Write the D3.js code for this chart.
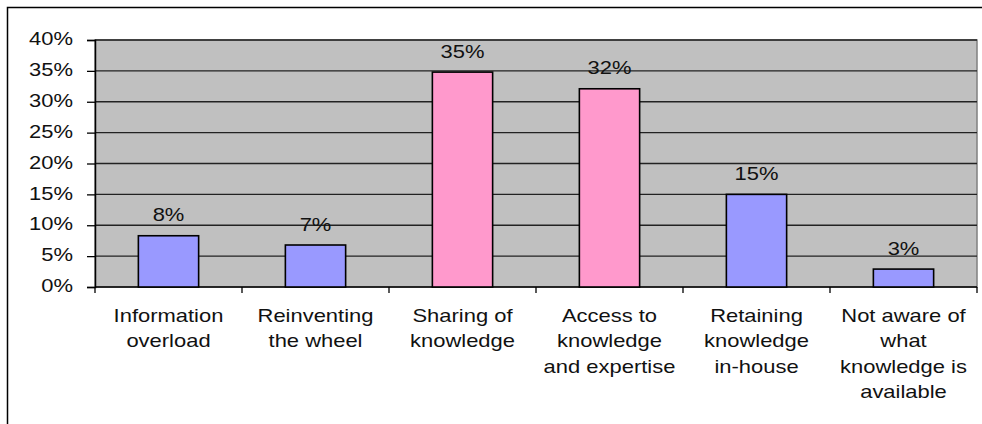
<!DOCTYPE html>
<html>
<head>
<meta charset="utf-8">
<script src="https://cdn.jsdelivr.net/npm/d3@7/dist/d3.min.js"></script>
<style>
  html, body { margin: 0; padding: 0; background: #fff; }
  svg { display: block; }
  text { font-family: "Liberation Sans", Arial, sans-serif; fill: #111; }
</style>
</head>
<body>
<svg id="chart" width="982" height="424"></svg>
<script>
// Survey results: share of respondents per knowledge-management issue
const categories = [
  ["Information", "overload"],
  ["Reinventing", "the wheel"],
  ["Sharing of", "knowledge"],
  ["Access to", "knowledge", "and expertise"],
  ["Retaining", "knowledge", "in-house"],
  ["Not aware of", "what", "knowledge is", "available"]
];
const values = [0.083, 0.068, 0.348, 0.321, 0.150, 0.029];
const highlighted = [false, false, true, true, false, false];
const yTicks = [0, 0.05, 0.10, 0.15, 0.20, 0.25, 0.30, 0.35, 0.40];

const FONT_SIZE = 18;
const STRETCH = 1.22; // wide lettering, scaled horizontally

const svg = d3.select("#chart");
const plot = { left: 95, right: 977, top: 40, bottom: 287 };
const pct = d3.format(".0%");

// Helper: horizontally stretched text anchored at (x, y)
function label(parent, x, y, lines, anchor, lineGap) {
  const g = parent.append("g")
    .attr("transform", `translate(${x},${y}) scale(${STRETCH},1)`);
  const t = g.append("text")
    .attr("text-anchor", anchor)
    .attr("font-size", FONT_SIZE);
  lines.forEach((ln, k) => {
    t.append("tspan").attr("x", 0).attr("dy", k === 0 ? 0 : lineGap).text(ln);
  });
  return g;
}

// Outer frame (top and left edges visible)
svg.append("path")
  .attr("d", "M7.5,424 L7.5,7.5 L982,7.5")
  .attr("fill", "none").attr("stroke", "#000").attr("stroke-width", 1.5);

const x = d3.scaleBand()
  .domain(d3.range(categories.length))
  .range([plot.left, plot.right])
  .paddingInner(0.59).paddingOuter(0.295);

const xCat = d3.scaleBand()
  .domain(d3.range(categories.length))
  .range([plot.left, plot.right]);

const y = d3.scaleLinear().domain([0, 0.40]).range([plot.bottom, plot.top]);

// Plot background
svg.append("rect")
  .attr("x", plot.left).attr("y", plot.top)
  .attr("width", plot.right - plot.left).attr("height", plot.bottom - plot.top)
  .attr("fill", "#c0c0c0").attr("stroke", "#808080").attr("stroke-width", 1.5);

// Horizontal gridlines
svg.append("g")
  .selectAll("line")
  .data(yTicks.filter(t => t > 0))
  .join("line")
  .attr("x1", plot.left).attr("x2", plot.right)
  .attr("y1", d => y(d)).attr("y2", d => y(d))
  .attr("stroke", "#222").attr("stroke-width", 1.3);

// Y axis
const yAxis = d3.axisLeft(y)
  .tickValues(yTicks)
  .tickFormat(pct)
  .tickSize(8).tickPadding(12);
const gy = svg.append("g").attr("transform", `translate(${plot.left},0)`).call(yAxis);
gy.select(".domain").attr("stroke", "#000").attr("stroke-width", 1.5);
gy.selectAll(".tick line").attr("stroke", "#000").attr("stroke-width", 1.3);
gy.selectAll(".tick text")
  .attr("x", null)
  .attr("dy", "0.26em")
  .attr("transform", `translate(-22,0) scale(${STRETCH},1)`)
  .attr("font-size", FONT_SIZE)
  .attr("font-family", "Liberation Sans, Arial, sans-serif")
  .attr("fill", "#111");

// X axis baseline and category separators
svg.append("line")
  .attr("x1", plot.left).attr("x2", plot.right)
  .attr("y1", plot.bottom).attr("y2", plot.bottom)
  .attr("stroke", "#000").attr("stroke-width", 1.5);
svg.append("g")
  .selectAll("line")
  .data(d3.range(categories.length + 1))
  .join("line")
  .attr("x1", i => i < categories.length ? xCat(i) : plot.right)
  .attr("x2", i => i < categories.length ? xCat(i) : plot.right)
  .attr("y1", plot.bottom).attr("y2", plot.bottom + 6)
  .attr("stroke", "#000").attr("stroke-width", 1.3);

// Bars
svg.append("g")
  .selectAll("rect")
  .data(values)
  .join("rect")
  .attr("x", (d, i) => x(i))
  .attr("y", d => y(d))
  .attr("width", x.bandwidth())
  .attr("height", d => y(0) - y(d))
  .attr("fill", (d, i) => highlighted[i] ? "#ff99cc" : "#9999ff")
  .attr("stroke", "#000").attr("stroke-width", 1.6);

// Value labels
const valG = svg.append("g");
values.forEach((v, i) => {
  label(valG, x(i) + x.bandwidth() / 2, y(v) - 14.5, [pct(v)], "middle", 0);
});

// Category labels
const catG = svg.append("g");
categories.forEach((lines, i) => {
  label(catG, xCat(i) + xCat.bandwidth() / 2, 321.5, lines, "middle", 25.6);
});
</script>
</body>
</html>
